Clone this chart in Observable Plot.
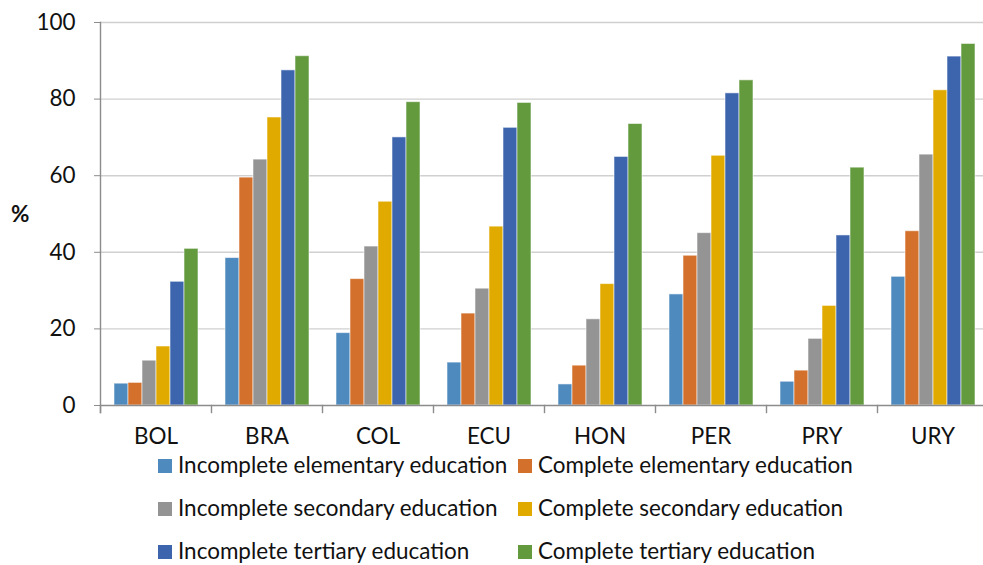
<!DOCTYPE html>
<html>
<head>
<meta charset="utf-8">
<script src="https://cdn.jsdelivr.net/npm/d3@7"></script>
<script src="https://cdn.jsdelivr.net/npm/@observablehq/plot@0.6"></script>
<style>
  html, body { margin: 0; padding: 0; background: #fff; overflow: hidden; }
  #wrap { position: relative; width: 983px; height: 565px; font-family: Lato, "Noto Sans", sans-serif; color: #111; }
  #pct { position: absolute; left: 11px; top: 203px; font-weight: bold; line-height: 1; }
  #legend { position: absolute; left: 158px; top: 444px; display: grid; grid-template-columns: 360px 360px; grid-auto-rows: 43px; }
  .item { display: flex; align-items: center; white-space: nowrap; line-height: 1; }
  .sw { width: 14px; height: 14px; margin-right: 6px; flex: none; }
</style>
</head>
<body>
<div id="wrap"><div id="chart"></div><div id="pct">%</div><div id="legend"></div></div>
<script>
const countries = ["BOL", "BRA", "COL", "ECU", "HON", "PER", "PRY", "URY"];
const seriesNames = [
  "Incomplete elementary education",
  "Complete elementary education",
  "Incomplete secondary education",
  "Complete secondary education",
  "Incomplete tertiary education",
  "Complete tertiary education"
];
const colors = ["#4f8abf", "#d2702c", "#949494", "#e0aa00", "#3d65ad", "#639a3e"];
const incompleteElementary = [5.7, 38.5, 18.9, 11.2, 5.5, 29.0, 6.2, 33.6];
const completeElementary   = [5.9, 59.5, 33.0, 24.0, 10.4, 39.1, 9.1, 45.5];
const incompleteSecondary  = [11.7, 64.2, 41.5, 30.5, 22.5, 45.0, 17.4, 65.5];
const completeSecondary    = [15.4, 75.2, 53.2, 46.7, 31.7, 65.2, 26.0, 82.3];
const incompleteTertiary   = [32.3, 87.5, 70.0, 72.5, 64.9, 81.5, 44.4, 91.1];
const completeTertiary     = [40.9, 91.2, 79.2, 79.0, 73.5, 84.9, 62.1, 94.4];
const yTicks = [0, 20, 40, 60, 80, 100];

const seriesValues = [incompleteElementary, completeElementary, incompleteSecondary,
                      completeSecondary, incompleteTertiary, completeTertiary];
const data = [];
countries.forEach((c, i) => seriesValues.forEach((vals, s) =>
  data.push({country: c, series: seriesNames[s], value: vals[i]})));

// fit font size so the legend text width resembles the original
const fontFamily = 'Lato, "Noto Sans", sans-serif';
const ctx = document.createElement("canvas").getContext("2d");
ctx.font = `100px ${fontFamily}`;
const w100 = ctx.measureText(seriesNames[0]).width;
const fs = Math.min(23, Math.max(16, 100 * 330 / w100));

const axisColor = "#8c8c8c";
const chart = Plot.plot({
  width: 983,
  height: 452,
  marginLeft: 99,
  marginRight: -5,
  marginTop: 22,
  marginBottom: 40,
  style: {fontFamily, fontSize: fs + "px", color: "#111", background: "#fff"},
  fx: {domain: countries, padding: 0, label: null, axis: null},
  x: {domain: seriesNames, paddingInner: 0, paddingOuter: 0.76, axis: null},
  y: {domain: [0, 100], range: [405, 22], label: null, axis: null},
  color: {domain: seriesNames, range: colors},
  marks: [
    Plot.gridY(yTicks.slice(1), {stroke: "#d0d0d0", strokeOpacity: 1, strokeWidth: 1.4}),
    Plot.barY(data, {fx: "country", x: "series", y: "value", fill: "series",
      stroke: "#ffffff", strokeOpacity: 0.55, strokeWidth: 1}),
    Plot.ruleY([0], {stroke: axisColor, strokeWidth: 1.4}),
    Plot.frame({anchor: "left", insetTop: 383, stroke: axisColor, strokeWidth: 1.4}),
    Plot.frame({anchor: "left", fx: () => countries[0], stroke: axisColor, strokeWidth: 1.4}),
    Plot.axisY(yTicks, {tickSize: 6, tickPadding: 19, stroke: axisColor, fill: "#111", label: null}),
    Plot.axisFx({anchor: "bottom", tickSize: 0, tickPadding: 16, label: null, fill: "#111"})
  ]
});
document.getElementById("chart").appendChild(chart);

document.getElementById("pct").style.fontSize = fs + "px";
const legend = document.getElementById("legend");
seriesNames.forEach((name, i) => {
  const item = document.createElement("div");
  item.className = "item";
  item.style.fontSize = fs + "px";
  const sw = document.createElement("span");
  sw.className = "sw";
  sw.style.background = colors[i];
  const t = document.createElement("span");
  t.textContent = name;
  item.appendChild(sw);
  item.appendChild(t);
  legend.appendChild(item);
});
</script>
</body>
</html>
